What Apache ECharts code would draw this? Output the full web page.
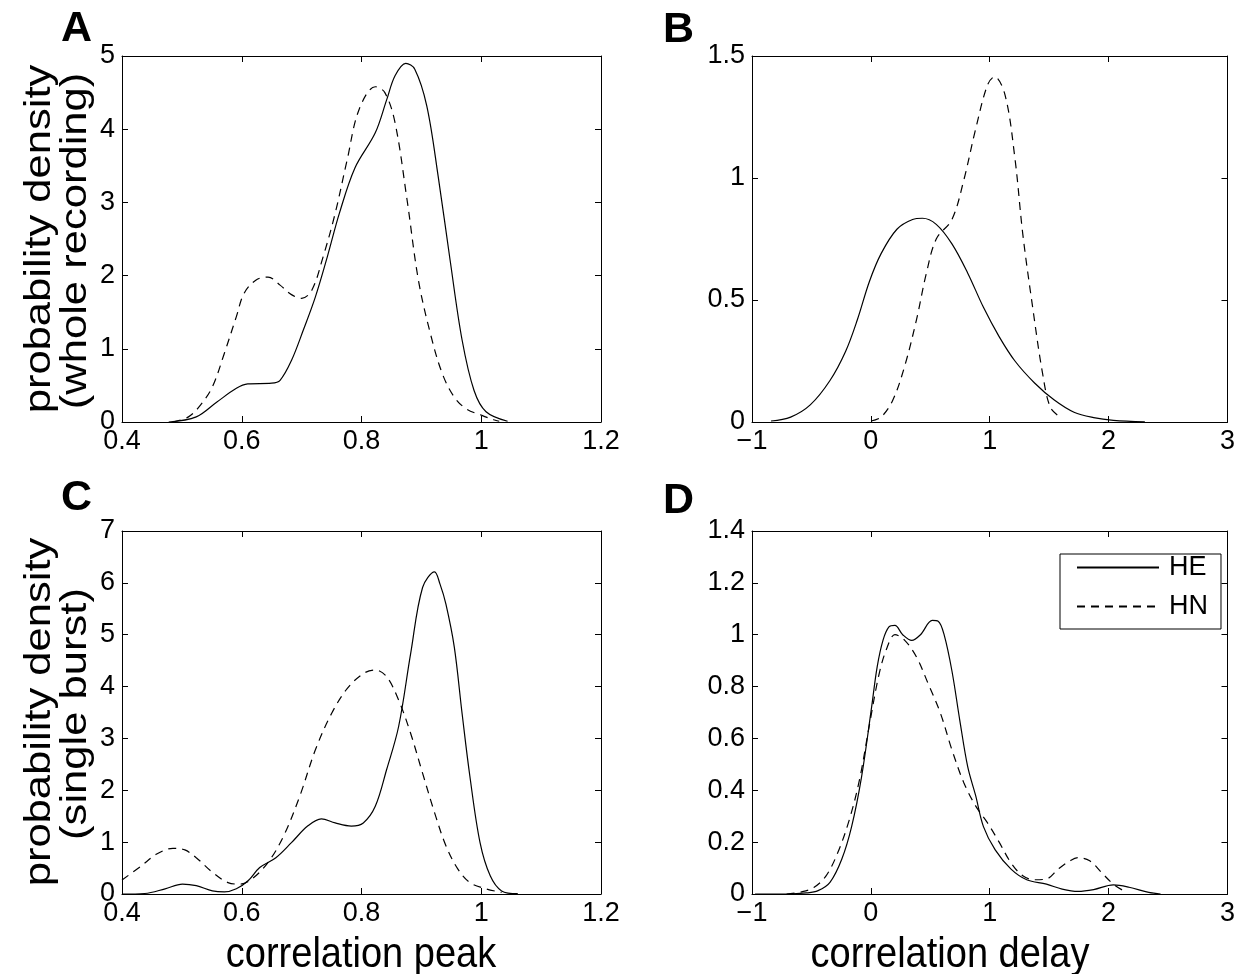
<!DOCTYPE html>
<html>
<head>
<meta charset="utf-8">
<script src="https://cdn.jsdelivr.net/npm/echarts@6/dist/echarts.min.js"></script>
<style>
html,body{margin:0;padding:0;background:#fff;}
#chart{width:1238px;height:974px;}
</style>
</head>
<body>
<div id="chart"></div>
<script>
// ---------- data ----------
const seriesNames = ['HE', 'HN'];

const aHE = [[0.478,0],[0.524,0.07],[0.558,0.27],[0.591,0.46],[0.61,0.52],[0.65,0.53],[0.664,0.57],[0.683,0.84],[0.703,1.26],[0.723,1.71],[0.743,2.26],[0.763,2.85],[0.789,3.47],[0.823,3.95],[0.842,4.4],[0.856,4.73],[0.874,4.9],[0.889,4.82],[0.909,4.32],[0.928,3.36],[0.948,2.21],[0.968,1.12],[0.988,0.43],[1.008,0.14],[1.044,0.01]];
const aHN = [[0.485,0],[0.511,0.07],[0.531,0.23],[0.551,0.48],[0.571,0.94],[0.591,1.44],[0.604,1.76],[0.624,1.94],[0.644,1.98],[0.664,1.87],[0.683,1.74],[0.7,1.69],[0.717,1.8],[0.736,2.26],[0.756,2.85],[0.776,3.58],[0.796,4.27],[0.823,4.58],[0.839,4.5],[0.856,4.09],[0.876,3.04],[0.895,1.94],[0.915,1.21],[0.935,0.66],[0.955,0.34],[0.975,0.18],[1.001,0.09],[1.021,0.03],[1.03,0.01]];

const bHE = [[-0.84,0.004],[-0.675,0.02],[-0.51,0.07],[-0.344,0.17],[-0.212,0.29],[-0.113,0.42],[-0.013,0.575],[0.086,0.69],[0.219,0.79],[0.351,0.83],[0.434,0.835],[0.55,0.81],[0.682,0.73],[0.815,0.61],[0.947,0.47],[1.079,0.35],[1.212,0.25],[1.377,0.16],[1.543,0.09],[1.709,0.04],[1.874,0.018],[2.04,0.007],[2.305,0.001]];
const bHN = [[0.003,0.004],[0.086,0.02],[0.185,0.09],[0.285,0.23],[0.384,0.42],[0.467,0.61],[0.55,0.75],[0.682,0.83],[0.781,0.99],[0.881,1.2],[0.98,1.38],[1.04,1.415],[1.129,1.34],[1.212,1.08],[1.278,0.77],[1.361,0.47],[1.444,0.2],[1.51,0.06],[1.593,0.02]];

const cHE = [[0.4,0],[0.438,0.01],[0.472,0.1],[0.501,0.19],[0.524,0.16],[0.551,0.06],[0.571,0.04],[0.591,0.1],[0.611,0.26],[0.63,0.51],[0.657,0.7],[0.683,0.99],[0.71,1.31],[0.733,1.45],[0.756,1.37],[0.783,1.31],[0.803,1.37],[0.823,1.69],[0.842,2.4],[0.862,3.23],[0.882,4.63],[0.902,5.91],[0.922,6.21],[0.931,5.98],[0.941,5.59],[0.955,4.76],[0.968,3.48],[0.981,2.27],[0.998,0.99],[1.015,0.35],[1.034,0.06],[1.061,0.006]];
const cHN = [[0.4,0.27],[0.432,0.54],[0.458,0.77],[0.485,0.88],[0.505,0.85],[0.524,0.7],[0.551,0.42],[0.577,0.22],[0.597,0.19],[0.617,0.29],[0.644,0.61],[0.67,1.12],[0.697,1.89],[0.723,2.78],[0.75,3.48],[0.776,3.96],[0.803,4.25],[0.823,4.32],[0.842,4.19],[0.862,3.74],[0.882,3.1],[0.902,2.33],[0.922,1.57],[0.941,0.93],[0.961,0.48],[0.981,0.22],[1.008,0.1],[1.034,0.03]];

const dHE = [[-0.974,0],[-0.709,0],[-0.543,0.004],[-0.444,0.013],[-0.344,0.045],[-0.245,0.134],[-0.162,0.26],[-0.079,0.45],[0.003,0.71],[0.053,0.876],[0.103,0.98],[0.152,1.03],[0.202,1.036],[0.268,1.0],[0.344,0.978],[0.417,1.0],[0.517,1.055],[0.566,1.052],[0.616,1.0],[0.682,0.86],[0.748,0.67],[0.815,0.49],[0.881,0.38],[0.947,0.26],[1.046,0.17],[1.179,0.096],[1.311,0.055],[1.477,0.038],[1.609,0.019],[1.742,0.01],[1.874,0.017],[2.04,0.035],[2.172,0.026],[2.338,0.006],[2.437,0]];
const dHN = [[-0.709,0],[-0.576,0.009],[-0.477,0.026],[-0.377,0.07],[-0.278,0.16],[-0.179,0.29],[-0.096,0.44],[-0.013,0.65],[0.07,0.85],[0.136,0.95],[0.202,1.0],[0.285,0.978],[0.384,0.914],[0.483,0.81],[0.583,0.7],[0.682,0.556],[0.781,0.43],[0.881,0.34],[0.98,0.275],[1.079,0.2],[1.179,0.12],[1.278,0.07],[1.377,0.055],[1.477,0.058],[1.576,0.096],[1.675,0.128],[1.742,0.14],[1.841,0.128],[1.94,0.083],[2.04,0.038],[2.139,0.009]];

// axis ranges / ticks
const xPeak = {min:0.4, max:1.2, interval:0.2};
const xDelay = {min:-1, max:3, interval:1};
const yA = {min:0, max:5, interval:1};
const yB = {min:0, max:1.5, interval:0.5};
const yC = {min:0, max:7, interval:1};
const yD = {min:0, max:1.4, interval:0.2};

const panelLetters = ['A','B','C','D'];
const yTitleTop = ['probability density', '(whole recording)'];
const yTitleBottom = ['probability density', '(single burst)'];
const xTitles = ['correlation peak', 'correlation delay'];

// ---------- layout ----------
const FONT = 'Liberation Sans, Arial, Helvetica, sans-serif';
const grids = [
  {left:122, top:56, width:479, height:366},
  {left:752, top:56, width:477, height:366},
  {left:122, top:531, width:479, height:363},
  {left:752, top:531, width:477, height:363}
];
const panels = [
  {x:xPeak, y:yA, he:aHE, hn:aHN},
  {x:xDelay, y:yB, he:bHE, hn:bHN},
  {x:xPeak, y:yC, he:cHE, hn:cHN},
  {x:xDelay, y:yD, he:dHE, hn:dHN}
];

function fmt(v){ return String(+v.toFixed(4)).replace('-', '\u2212'); }

const xAxes = [], yAxes = [], series = [];
panels.forEach((p, i) => {
  const tick = {show:true, inside:true, length:6, lineStyle:{color:'#000', width:1}};
  const line = {show:true, onZero:false, lineStyle:{color:'#000', width:1}};
  xAxes.push({type:'value', gridIndex:i, position:'bottom', min:p.x.min, max:p.x.max, interval:p.x.interval,
    axisLine:line, axisTick:tick, splitLine:{show:false},
    axisLabel:{show:true, color:'#000', fontSize:27, fontFamily:FONT, margin:6, formatter:fmt}});
  xAxes.push({type:'value', gridIndex:i, position:'top', min:p.x.min, max:p.x.max, interval:p.x.interval,
    axisLine:line, axisTick:tick, splitLine:{show:false}, axisLabel:{show:false}});
  yAxes.push({type:'value', gridIndex:i, position:'left', min:p.y.min, max:p.y.max, interval:p.y.interval,
    axisLine:line, axisTick:tick, splitLine:{show:false},
    axisLabel:{show:true, color:'#000', fontSize:27, fontFamily:FONT, margin:7, formatter:fmt}});
  yAxes.push({type:'value', gridIndex:i, position:'right', min:p.y.min, max:p.y.max, interval:p.y.interval,
    axisLine:line, axisTick:tick, splitLine:{show:false}, axisLabel:{show:false}});
  series.push({name:seriesNames[0], type:'line', xAxisIndex:2*i, yAxisIndex:2*i, data:p.he,
    smooth:0.35, symbol:'none', showSymbol:false, lineStyle:{color:'#000', width:1.2, type:'solid'},
    itemStyle:{color:'#000'}, silent:true, animation:false});
  series.push({name:seriesNames[1], type:'line', xAxisIndex:2*i, yAxisIndex:2*i, data:p.hn,
    smooth:0.35, symbol:'none', showSymbol:false, lineStyle:{color:'#000', width:1.2, type:[8,6]},
    itemStyle:{color:'#000'}, silent:true, animation:false});
});

function txt(s, x, y, size, opts){
  opts = opts || {};
  return {type:'text', x:x, y:y, rotation:opts.rot||0, scaleX:opts.sx||1, scaleY:opts.sy||1, silent:true,
    style:{text:s, x:0, y:0, fill:'#000', fontSize:size, fontFamily:FONT, fontWeight:opts.bold?'bold':'normal',
      align:opts.align||'center', verticalAlign:'middle', textAlign:opts.align||'center', textVerticalAlign:'middle'}};
}
const R = Math.PI/2;
const graphics = [
  txt(panelLetters[0], 61, 29, 43, {bold:true, align:'left'}),
  txt(panelLetters[1], 663, 30, 43, {bold:true, align:'left'}),
  txt(panelLetters[2], 61, 498, 43, {bold:true, align:'left'}),
  txt(panelLetters[3], 663, 501, 43, {bold:true, align:'left'}),
  txt(yTitleTop[0], 40, 239, 36, {rot:R, sx:1.21}),
  txt(yTitleTop[1], 76, 241, 36, {rot:R, sx:1.21}),
  txt(yTitleBottom[0], 40, 712, 36, {rot:R, sx:1.21}),
  txt(yTitleBottom[1], 76, 714, 36, {rot:R, sx:1.21}),
  txt(xTitles[0], 361, 955, 38, {sy:1.1}),
  txt(xTitles[1], 950, 955, 38, {sy:1.1}),
];

const chart = echarts.init(document.getElementById('chart'), null, {renderer:'canvas'});
chart.setOption({
  animation:false,
  backgroundColor:'#fff',
  grid: grids.map(g => Object.assign({show:false, containLabel:false}, g)),
  xAxis: xAxes,
  yAxis: yAxes,
  series: series,
  legend: {
    show:true, data:seriesNames, seriesIndex:[6,7],
    orient:'vertical', left:1060, top:554,
    itemWidth:82, itemHeight:14, itemGap:12,
    padding:[0,13,9,16],
    borderColor:'#000', borderWidth:1, backgroundColor:'#fff',
    itemStyle:{opacity:0},
    textStyle:{color:'#000', fontSize:27, fontFamily:FONT, padding:[0,0,0,5]},
    selectedMode:false
  },
  graphic: graphics
});
</script>
</body>
</html>
